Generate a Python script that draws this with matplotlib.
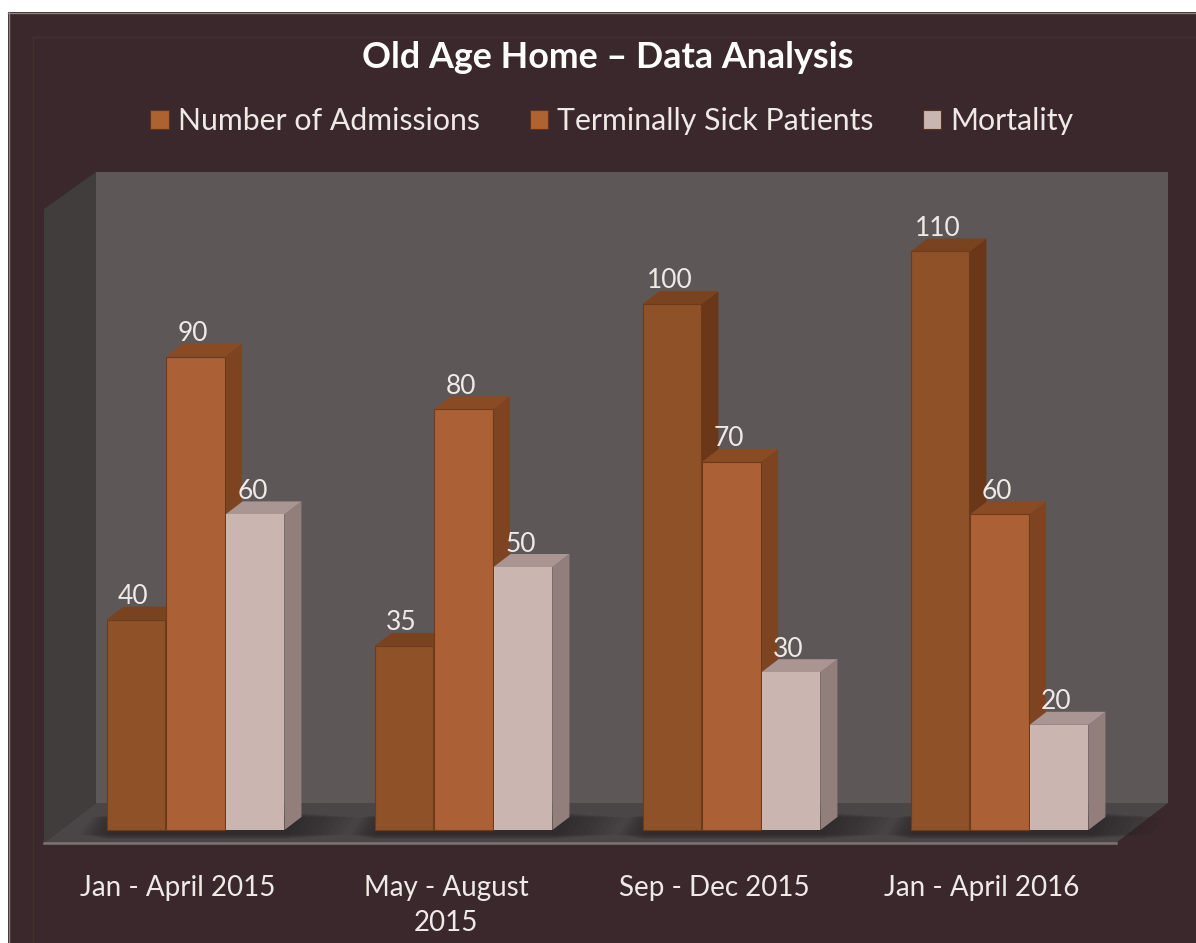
import matplotlib
matplotlib.use("Agg")
import matplotlib.pyplot as plt
from matplotlib.patches import Polygon, Rectangle, Patch

categories = ["Jan - April 2015", "May - August\n2015", "Sep - Dec 2015", "Jan - April 2016"]
series_names = ["Number of Admissions", "Terminally Sick Patients", "Mortality"]
admissions = [40, 35, 100, 110]
terminally_sick = [90, 80, 70, 60]
mortality = [60, 50, 30, 20]
series = [admissions, terminally_sick, mortality]

W, H = 1196, 943
FONT = "Lato"
plt.rcParams["font.family"] = [FONT, "DejaVu Sans"]
BG = "#3a282d"
TXT = "#efeae6"
front = ["#8f5127", "#ab6135", "#cab5b0"]
side = ["#6a3819", "#7e4422", "#927f7c"]
top = ["#7a4320", "#8a4a24", "#a99592"]
swatch = ["#ad6230", "#b0622f", "#c9b5b1"]

fig = plt.figure(figsize=(W / 100, H / 100), dpi=100, facecolor="white")
# page panel, kept behind the axes
fig.add_artist(Rectangle((8 / W, 0), 1, 1 - 12 / H, transform=fig.transFigure, fc=BG, ec="none", zorder=-5))
for xs, ys, col in [([8 / W, 1], [1 - 12.5 / H] * 2, "#8d8282"),
                    ([8.5 / W] * 2, [0, 1 - 12 / H], "#8d8282"),
                    ([33 / W] * 2, [0, 1 - 37 / H], "#42312f"),
                    ([33 / W, 1], [1 - 37 / H] * 2, "#42312f")]:
    fig.add_artist(plt.Line2D(xs, ys, color=col, lw=1, zorder=-4))

# plot box: the front edge of the floor is the x axis
PX_X0, PX_X1, PX_Y0, PX_Y1 = 44, 1116, 843, 209
ax = fig.add_axes([PX_X0 / W, 1 - PX_Y0 / H, (PX_X1 - PX_X0) / W, (PX_Y0 - PX_Y1) / H])
ax.set_facecolor("none")
UY = 5.26
ax.set_xlim(0, 4)
ax.set_ylim(-13 / UY, (830 - PX_Y1) / UY)
UX = (PX_X1 - PX_X0) / 4
y0 = -13 / UY


def pdx(p):
    return p / UX


def pdy(p):
    return p / UY


wx, wy = pdx(52), pdy(40)
wall_top = (830 - 172) / UY
ymax = ax.get_ylim()[1]
kw = dict(clip_on=False, ec="none")
# back wall, left wall, floor
ax.add_patch(Polygon([(wx, y0 + wy), (4 + wx, y0 + wy), (4 + wx, wall_top), (wx, wall_top)], fc="#5d5857", zorder=1, **kw))
ax.add_patch(Polygon([(0, y0), (wx, y0 + wy), (wx, wall_top), (0, ymax)], fc="#413d3c", zorder=1, **kw))
ax.add_patch(Polygon([(0, y0), (4, y0), (4 + wx, y0 + wy), (wx, y0 + wy)], fc="#4a4648", zorder=1.1, **kw))

bw = pdx(58.9)
gap = pdx(0.6)
ox = pdx(17.5)
dx, dy = pdx(17), pdy(13)

# soft shadow on the floor around each group
for i in range(4):
    c = i + 0.5 + ox
    for k in range(10):
        g = pdx(4 + k * 5)
        xl, xr = c - 1.5 * bw - g * 0.55, c + 1.5 * bw + g * 1.3
        yb, yt = y0 + pdy(4 + k * 0.5), y0 + pdy(30 - k * 0.5)
        ax.add_patch(Polygon([(xl, yb), (xr, yb), (xr + pdx(12), yt), (xl + pdx(12), yt)],
                             fc="#1d1a1c", alpha=0.07, zorder=1.2, **kw))

# bars, painted left to right so nearer faces cover the sides
z = 2
for i in range(4):
    for s, vals in enumerate(series):
        v = vals[i]
        x = i + 0.5 + ox + (s - 1) * (bw + gap)
        l, r = x - bw / 2, x + bw / 2
        ax.add_patch(Polygon([(r, 0), (r + dx, dy), (r + dx, v + dy), (r, v)], fc=side[s], zorder=z, **kw))
        ax.add_patch(Polygon([(l, v), (r, v), (r + dx, v + dy), (l + dx, v + dy)], fc=top[s], zorder=z, **kw))
        ax.bar(x, v, bw, color=front[s], edgecolor="#6d3a1a" if s < 2 else "none", linewidth=0.8,
               zorder=z + 0.1, clip_on=False)
        z += 1

# value labels
for i in range(4):
    for s, vals in enumerate(series):
        v = vals[i]
        x = i + 0.5 + ox + (s - 1) * (bw + gap) - pdx(2.5)
        ax.text(x, v + pdy(23), str(v), ha="center", va="center", color=TXT, fontsize=19, zorder=100, clip_on=False)

ax.set_xticks([i + 0.5 for i in range(4)], categories, color=TXT, fontsize=20, linespacing=1.45)
ax.tick_params(axis="x", length=0, pad=23)
ax.set_yticks([])
for n in ("left", "right", "top"):
    ax.spines[n].set_visible(False)
ax.spines["bottom"].set_color("#7b7474")
ax.spines["bottom"].set_linewidth(1.8)
ax.spines["bottom"].set_zorder(50)

fig.text(607.5 / W, 1 - 58 / H, "Old Age Home \u2013 Data Analysis", ha="center", va="center",
         color="#ffffff", fontsize=25.8, fontweight="bold")

handles = [Patch(fc=swatch[s], ec="#5a3420", lw=0.8, label=series_names[s]) for s in range(3)]
fig.legend(handles=handles, loc="center", bbox_to_anchor=(612 / W, 1 - 121 / H), ncols=3, frameon=False,
           fontsize=21.8, labelcolor=TXT, handlelength=0.6, handleheight=0.6, handletextpad=0.3,
           columnspacing=1.65)

fig.savefig("out.png", dpi=100, facecolor=fig.get_facecolor())
